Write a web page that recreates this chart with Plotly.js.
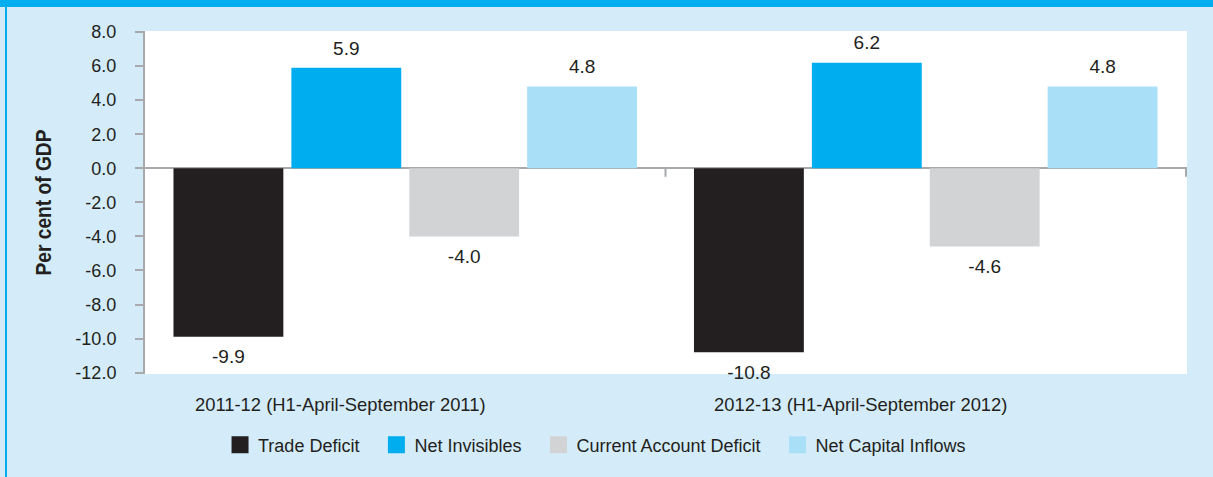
<!DOCTYPE html>
<html><head><meta charset="utf-8">
<script src="https://cdn.plot.ly/plotly-3.0.1.min.js"></script>
<style>
html,body{margin:0;padding:0;background:#d4ecf9;}
#wrap{position:relative;width:1213px;height:477px;overflow:hidden;}
#chart{position:absolute;left:0;top:0;width:1213px;height:477px;}
#topbar{position:absolute;left:0;top:0;width:1213px;height:7px;background:#00aeef;}
#leftbar{position:absolute;left:5px;top:0;width:2px;height:477px;background:#00aeef;}
</style></head><body>
<div id="wrap"><div id="chart"></div><div id="topbar"></div><div id="leftbar"></div></div>
<script>
// ---- data ----
const categories = ["2011-12 (H1-April-September 2011)", "2012-13 (H1-April-September 2012)"];
const tradeDeficit = [-9.9, -10.8];
const netInvisibles = [5.9, 6.2];
const currentAccountDeficit = [-4.0, -4.6];
const netCapitalInflows = [4.8, 4.8];
const seriesNames = ["Trade Deficit", "Net Invisibles", "Current Account Deficit", "Net Capital Inflows"];
const yTickValues = [8, 6, 4, 2, 0, -2, -4, -6, -8, -10, -12];
const yTickLabels = ["8.0", "6.0", "4.0", "2.0", "0.0", "-2.0", "-4.0", "-6.0", "-8.0", "-10.0", "-12.0"];

// ---- styling ----
const FONT = "Liberation Sans, Arial, sans-serif";
const TEXT = "#231f20";
const GREY = "#a7a9ac";
const colors = ["#231f20", "#00aeef", "#d1d3d4", "#aadff8"];
const allSeries = [tradeDeficit, netInvisibles, currentAccountDeficit, netCapitalInflows];

const data = [];
allSeries.forEach((vals, i) => {
  data.push({
    type: "bar", name: seriesNames[i], x: categories, y: vals,
    marker: {color: colors[i], line: {width: 0}},
    hoverinfo: "skip"
  });
});
allSeries.forEach((vals, i) => {
  data.push({
    type: "scatter", mode: "markers+text", x: categories, y: vals,
    text: vals.map(v => v.toFixed(1)),
    textposition: vals.map(v => v >= 0 ? "top center" : "bottom center"),
    marker: {opacity: 0, size: vals.map(v => v >= 0 ? 12 : 18)},
    textfont: {family: FONT, size: 19, color: TEXT},
    showlegend: false, hoverinfo: "skip", cliponaxis: false
  });
});

const layout = {
  width: 1213, height: 477,
  paper_bgcolor: "#d4ecf9", plot_bgcolor: "#ffffff",
  margin: {l: 145, r: 26, t: 31, b: 103},
  barmode: "group", bargap: 0.094, bargroupgap: 0.068,
  scattermode: "group", scattergap: 0.094,
  font: {family: FONT, size: 18, color: TEXT},
  showlegend: true,
  xaxis: {
    type: "category", showline: false, ticks: "", showgrid: false, zeroline: false,
    ticklabelshift: -65, ticklabelstandoff: 18, tickfont: {family: FONT, size: 18.4, color: TEXT}
  },
  yaxis: {
    range: [-12.08, 8.06], tickmode: "array", tickvals: yTickValues, ticktext: yTickLabels,
    showgrid: false, zeroline: true, zerolinecolor: GREY, zerolinewidth: 2,
    showline: true, linecolor: GREY, linewidth: 2,
    ticks: "outside", ticklen: 8, tickwidth: 2, tickcolor: GREY, ticklabelstandoff: 15,
    tickfont: {family: FONT, size: 18, color: TEXT},
    title: {text: "Per cent of GDP", font: {family: FONT, size: 22, weight: "bold", color: TEXT}, standoff: 18}
  },
  legend: {
    orientation: "h", x: 0.0605, xanchor: "left", y: -0.207, yanchor: "middle",
    itemwidth: 40,
    bgcolor: "rgba(0,0,0,0)", font: {family: FONT, size: 18, color: TEXT}, traceorder: "normal"
  },
  shapes: [0.5, 1.5].map(b => ({
    type: "line", xref: "x", yref: "y", x0: b, x1: b, y0: 0, y1: -0.5,
    line: {color: GREY, width: 2}
  }))
};

Plotly.newPlot("chart", data, layout, {staticPlot: true, displayModeBar: false}).then(gd => {
  gd.querySelectorAll(".legend .legendpoints path").forEach(p => {
    p.setAttribute("d", "M15.5,8.5H-1.5V-8.5H15.5Z");
  });
  const yt = gd.querySelector(".ytitle");
  if (yt) {
    yt.setAttribute("textLength", "146");
    yt.setAttribute("lengthAdjust", "spacingAndGlyphs");
  }
});
</script>
</body></html>
